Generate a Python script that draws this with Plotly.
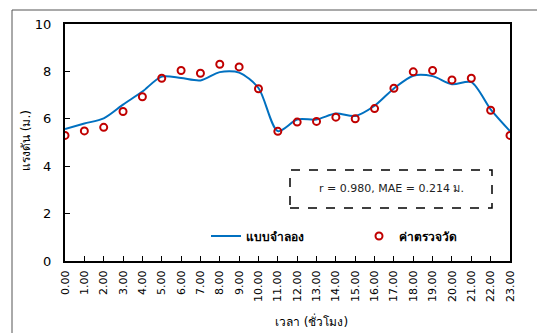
import plotly.graph_objects as go

hours = [f"{h}.00" for h in range(24)]
model = [5.57, 5.80, 6.02, 6.60, 7.15, 7.78, 7.72, 7.62, 7.97, 7.95, 7.30, 5.48,
         5.97, 5.97, 6.22, 6.12, 6.55, 7.28, 7.82, 7.80, 7.46, 7.55, 6.40, 5.48]
observed = [5.30, 5.49, 5.64, 6.31, 6.93, 7.71, 8.04, 7.92, 8.30, 8.19, 7.27, 5.47,
            5.86, 5.89, 6.07, 6.00, 6.43, 7.29, 7.98, 8.04, 7.64, 7.71, 6.36, 5.30]
yticks = [0, 2, 4, 6, 8, 10]

FONT = "Tahoma, DejaVu Sans, Noto Sans, sans-serif"
L, R, T, B = 65, 510, 24, 261
W, H = R - L, B - T

def px(x):
    return (x - L) / W

def py(y):
    return (B - y) / H

fig = go.Figure()
fig.add_trace(go.Scatter(x=hours, y=model, mode="lines", name="<b>แบบจำลอง</b>",
                         line=dict(color="#0070C0", width=2, shape="spline", smoothing=0.8),
                         legend="legend"))
fig.add_trace(go.Scatter(x=hours, y=observed, mode="markers", name="<b>ค่าตรวจวัด</b>",
                         marker=dict(symbol="circle-open", size=7, color="#C00000",
                                     line=dict(width=2, color="#C00000")),
                         legend="legend2"))

leg_common = dict(xanchor="left", yanchor="middle", bgcolor="rgba(0,0,0,0)",
                  font=dict(size=12, color="black"))
fig.update_layout(
    width=537, height=333,
    margin=dict(l=L, r=537 - R, t=T, b=333 - B),
    paper_bgcolor="white", plot_bgcolor="white",
    font=dict(family=FONT, size=12, color="black"),
    showlegend=True,
    legend=dict(x=px(206), y=py(236), **leg_common),
    legend2=dict(x=px(359), y=py(236), **leg_common),
    xaxis=dict(type="category", tickangle=-90, showgrid=False, zeroline=False,
               showline=True, linecolor="black", linewidth=2, mirror=True,
               ticks="inside", ticklen=5, tickwidth=1, tickcolor="black",
               tickfont=dict(size=11), range=[0, 23], automargin=False,
               ticklabelstandoff=3),
    yaxis=dict(range=[0, 10], tickvals=yticks, showgrid=False, zeroline=False,
               showline=True, linecolor="black", linewidth=2, mirror=True,
               ticks="inside", ticklen=5, tickwidth=1, tickcolor="black",
               tickfont=dict(size=13), automargin=False, ticklabelstandoff=9),
)

# axis titles
fig.add_annotation(xref="paper", yref="paper", x=px(311), y=py(321),
                   text="เวลา (ชั่วโมง)", showarrow=False, xanchor="center", yanchor="middle",
                   font=dict(size=12, color="black"))
fig.add_annotation(xref="paper", yref="paper", x=px(26), y=py(141),
                   text="แรงดัน (ม.)", showarrow=False, xanchor="center", yanchor="middle",
                   textangle=-90, font=dict(size=12, color="black"))

# outer frame
fig.add_shape(type="rect", xref="paper", yref="paper", x0=px(12), y0=-1, x1=2, y1=py(10),
              line=dict(color="#555555", width=1), layer="below")
# dashed annotation box
fig.add_shape(type="rect", xref="paper", yref="paper",
              x0=px(290), x1=px(492), y0=py(208), y1=py(170),
              line=dict(color="black", width=1.5, dash="dash"))
fig.add_annotation(xref="paper", yref="paper", x=px(391), y=py(189),
                   xanchor="center", yanchor="middle",
                   text="r = 0.980, MAE = 0.214 ม.", showarrow=False,
                   font=dict(size=11, color="#222222"))

fig.write_html("out.html", config={"displayModeBar": False},
               post_script="document.body.style.margin='0';")
